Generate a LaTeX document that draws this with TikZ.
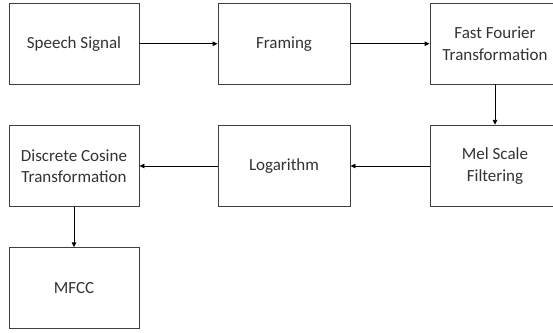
\documentclass[tikz,border=0pt]{standalone}
\usepackage{fontspec}
\setmainfont{Carlito}
\usetikzlibrary{arrows.meta}
\begin{document}
\begin{tikzpicture}[x=1pt,y=-1pt,
  stage/.style={draw=black!75, line width=0.9pt, inner sep=0pt, align=center,
    font=\fontsize{17}{21.5}\selectfont, text=black!80},
  flow/.style={draw=black, line width=0.9pt, -{Triangle[length=5pt,width=4.5pt]}}]
  \clip (0,0) rectangle (553,332);
  \useasboundingbox (0,0) rectangle (553,332);
  \fill[white] (0,0) rectangle (553,332);
  % first row
  \node[stage, minimum width=130pt, minimum height=80.5pt] (speech) at (74,43.75) {Speech Signal};
  \node[stage, minimum width=132pt, minimum height=80.5pt] (framing) at (284,43.75) {Framing};
  \node[stage, minimum width=130pt, minimum height=80.5pt] (fft) at (495,43.75) {Fast Fourier\\Transformation};
  % second row
  \node[stage, minimum width=130pt, minimum height=81.5pt] (dct) at (74,166) {Discrete Cosine\\Transformation};
  \node[stage, minimum width=132pt, minimum height=81.5pt] (log) at (284,166) {Logarithm};
  \node[stage, minimum width=130pt, minimum height=81.5pt] (mel) at (495,166) {Mel Scale\\Filtering};
  % third row
  \node[stage, minimum width=130pt, minimum height=80.5pt] (mfcc) at (74,288) {MFCC};
  % connectors
  \draw[flow] (speech) -- (framing);
  \draw[flow] (framing) -- (fft);
  \draw[flow] (fft) -- (mel);
  \draw[flow] (mel) -- (log);
  \draw[flow] (log) -- (dct);
  \draw[flow] (dct) -- (mfcc);
\end{tikzpicture}
\end{document}
